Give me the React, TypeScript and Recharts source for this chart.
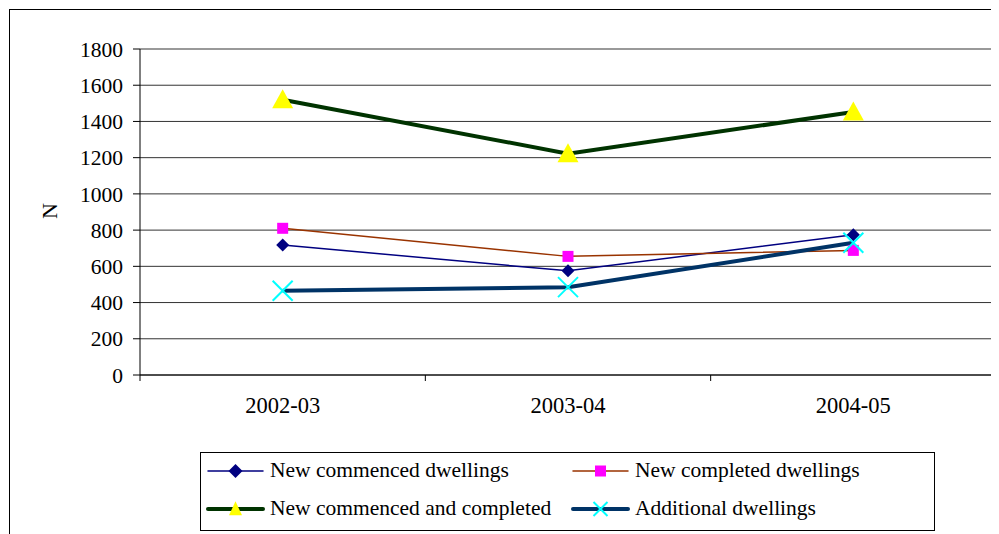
import React from "react";
import { LineChart, Line, XAxis, YAxis, CartesianGrid, ReferenceLine } from "recharts";

const periods = ["2002-03", "2003-04", "2004-05"];
const commenced = [718, 575, 775];
const completed = [810, 655, 688];
const commencedAndCompleted = [1520, 1222, 1452];
const additional = [465, 485, 730];

const yTicks = [0, 200, 400, 600, 800, 1000, 1200, 1400, 1600, 1800];
const xTicks = [0, 0.5, 1, 1.5, 2, 2.5, 3];

const data = periods.map((p, i) => ({
  period: p,
  pos: i + 0.5,
  commenced: commenced[i],
  completed: completed[i],
  both: commencedAndCompleted[i],
  additional: additional[i],
}));

const FONT = "Times New Roman, Liberation Serif, DejaVu Serif, serif";

const Diamond = ({ cx, cy, r = 6.5 }: any) => (
  <polygon points={`${cx},${cy - r} ${cx + r},${cy} ${cx},${cy + r} ${cx - r},${cy}`} fill="#000080" />
);
const Square = ({ cx, cy, s = 11 }: any) => (
  <rect x={cx - s / 2} y={cy - s / 2} width={s} height={s} fill="#FF00FF" />
);
const Triangle = ({ cx, cy, w = 21, h = 19 }: any) => (
  <polygon points={`${cx},${cy - h * 0.55} ${cx + w / 2},${cy + h * 0.45} ${cx - w / 2},${cy + h * 0.45}`} fill="#FFFF00" />
);
const Cross = ({ cx, cy, r = 10 }: any) => (
  <g stroke="#00FFFF" strokeWidth={2}>
    <line x1={cx - r} y1={cy - r} x2={cx + r} y2={cy + r} />
    <line x1={cx - r} y1={cy + r} x2={cx + r} y2={cy - r} />
  </g>
);

const dotOf = (Shape: any) => (props: any) =>
  <Shape key={`${props.dataKey}-${props.index}`} cx={props.cx} cy={props.cy} />;

// tick marks sit on band edges, period labels in band middles
const XTick = ({ x, y, payload }: any) => {
  const v = payload.value;
  if (Number.isInteger(v)) {
    return <line x1={x} y1={y} x2={x} y2={y + 6} stroke="#000" />;
  }
  return (
    <text x={x} y={y + 38} textAnchor="middle" style={{ fontFamily: FONT }} fontSize={22.5} fill="#000">
      {periods[Math.floor(v)]}
    </text>
  );
};

const legendItems = [
  { label: "New commenced dwellings", color: "#000080", width: 1.5, icon: <Diamond cx={0} cy={0} r={7} />, col: 0, row: 0 },
  { label: "New completed dwellings", color: "#993300", width: 1.5, icon: <Square cx={0} cy={0} s={11} />, col: 1, row: 0 },
  { label: "New commenced and completed", color: "#003300", width: 4, icon: <Triangle cx={0} cy={0} w={13} h={14} />, col: 0, row: 1 },
  { label: "Additional dwellings", color: "#003366", width: 4, icon: <Cross cx={0} cy={0} r={7} />, col: 1, row: 1 },
];

function ChartLegend() {
  return (
    <svg width={735} height={79} style={{ position: "absolute", left: 192, top: 444 }}>
      <rect x={0.5} y={0.5} width={734} height={78} fill="#fff" stroke="#000" />
      {legendItems.map((it) => {
        const x0 = it.col === 0 ? 8 : 373;
        const cy = it.row === 0 ? 19 : 57;
        return (
          <g key={it.label}>
            <line x1={x0} y1={cy} x2={x0 + 55} y2={cy} stroke={it.color} strokeWidth={it.width} strokeLinecap="round" />
            <g transform={`translate(${x0 + 27.5},${cy})`}>{it.icon}</g>
            <text x={x0 + 62} y={cy + 6} style={{ fontFamily: FONT }} fontSize={21.5} fill="#000">
              {it.label}
            </text>
          </g>
        );
      })}
    </svg>
  );
}

export default function App() {
  return (
    <div style={{ position: "relative", width: 991, height: 526, overflow: "hidden", background: "#fff", fontFamily: FONT }}>
      <div style={{ position: "absolute", left: 1, top: 1, width: 1100, height: 700, border: "1px solid #000" }} />
      <div style={{ position: "absolute", left: 0, top: 0 }}>
        <LineChart width={991} height={526} data={data} margin={{ top: 41, right: 3, left: 0, bottom: 119 }}>
          <CartesianGrid vertical={false} stroke="#333" />
          <XAxis
            dataKey="pos"
            type="number"
            domain={[0, 3]}
            ticks={xTicks}
            interval={0}
            height={40}
            tickSize={0}
            tickMargin={0}
            tickLine={false}
            tick={<XTick />}
            axisLine={{ stroke: "#000" }}
          />
          <YAxis
            width={132}
            domain={[0, 1800]}
            ticks={yTicks}
            interval={0}
            tickSize={7}
            tickMargin={10}
            axisLine={{ stroke: "#000" }}
            tickLine={{ stroke: "#000" }}
            tick={{ fill: "#000", fontSize: 21.5, style: { fontFamily: FONT } }}
            label={{
              content: () => (
                <text x={41} y={203} transform="rotate(-90 41 203)" textAnchor="middle" dominantBaseline="central" style={{ fontFamily: FONT }} fontSize={22} fill="#000">
                  N
                </text>
              ),
            }}
          />
          <ReferenceLine y={1800} stroke="#999" />
          <ReferenceLine x={3} stroke="#999" />
          <Line dataKey="commenced" stroke="#000080" strokeWidth={1.5} dot={dotOf(Diamond)} isAnimationActive={false} />
          <Line dataKey="completed" stroke="#993300" strokeWidth={1.5} dot={dotOf(Square)} isAnimationActive={false} />
          <Line dataKey="both" stroke="#003300" strokeWidth={4} dot={dotOf(Triangle)} isAnimationActive={false} />
          <Line dataKey="additional" stroke="#003366" strokeWidth={4} dot={dotOf(Cross)} isAnimationActive={false} />
        </LineChart>
      </div>
      <ChartLegend />
    </div>
  );
}
